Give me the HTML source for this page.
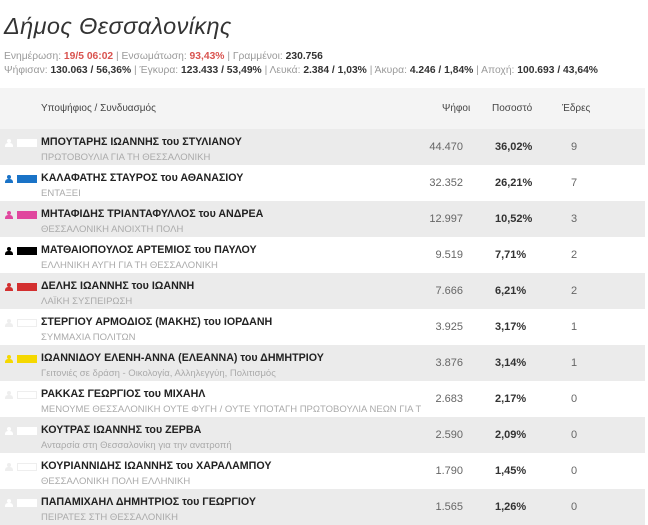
<!DOCTYPE html><html><head><meta charset="utf-8"><style>
body{margin:0;width:648px;height:524px;background:#fff;overflow:hidden;font-family:"Liberation Sans","Noto Sans CJK SC",sans-serif;position:relative}
.a{position:absolute;white-space:nowrap}
h1{position:absolute;left:4px;top:13px;margin:0;font:italic 23.5px "Liberation Sans",sans-serif;color:#333;letter-spacing:0.4px}
.meta{font-size:10.5px;color:#999;transform:scaleX(0.98);transform-origin:left}
.meta b{color:#333}
.row{position:absolute;left:0;width:645px;height:36px}
.g{background:#ebebeb}
.nm{position:absolute;left:41px;top:7px;font-size:11px;font-weight:bold;color:#222;white-space:nowrap;transform:scaleX(0.97);transform-origin:left}
.sb{position:absolute;left:41px;top:23px;font-size:9.5px;color:#aaa;width:380px;overflow:hidden;white-space:nowrap}
.v{position:absolute;right:182px;top:12px;font-size:11px;color:#666}
.p{position:absolute;left:495px;top:12px;font-size:11px;font-weight:bold;color:#333}
.s{position:absolute;left:571px;top:12px;font-size:11px;color:#666}
.pi{position:absolute;left:5px;top:10px;width:8px;height:8px}
.pi:before{content:"";position:absolute;left:2px;top:0;width:4px;height:4px;border-radius:50%;background:currentColor}
.pi:after{content:"";position:absolute;left:0;top:4px;width:8px;height:4px;border-radius:3px 3px 0 0;background:currentColor}
.bx{position:absolute;left:17px;top:10px;width:20px;height:8px}
</style></head><body>
<h1>Δήμος Θεσσαλονίκης</h1>
<div class="a meta" style="left:4px;top:50px">Ενημέρωση: <b style="color:#d9534f">19/5 06:02</b> | Ενσωμάτωση: <b style="color:#d9534f">93,43%</b> | Γραμμένοι: <b>230.756</b></div>
<div class="a meta" style="left:4px;top:64px">Ψήφισαν: <b>130.063 / 56,36%</b> | Έγκυρα: <b>123.433 / 53,49%</b> | Λευκά: <b>2.384 / 1,03%</b> | Άκυρα: <b>4.246 / 1,84%</b> | Αποχή: <b>100.693 / 43,64%</b></div>
<div class="row" style="top:88px;height:41px;background:#f4f4f4">
<div class="a" style="left:41px;top:15px;font-size:10px;color:#444">Υποψήφιος / Συνδυασμός</div>
<div class="a" style="left:442px;top:15px;font-size:10px;color:#444">Ψήφοι</div>
<div class="a" style="left:492px;top:15px;font-size:10px;color:#444">Ποσοστό</div>
<div class="a" style="left:562px;top:15px;font-size:10px;color:#444">Έδρες</div>
</div>
<div class="row g" style="top:129px"><div class="pi" style="color:#fff"></div><div class="bx" style="background:#fff"></div><div class="nm">ΜΠΟΥΤΑΡΗΣ ΙΩΑΝΝΗΣ του ΣΤΥΛΙΑΝΟΥ</div><div class="sb">ΠΡΩΤΟΒΟΥΛΙΑ ΓΙΑ ΤΗ ΘΕΣΣΑΛΟΝΙΚΗ</div><div class="v">44.470</div><div class="p">36,02%</div><div class="s">9</div></div>
<div class="row" style="top:165px"><div class="pi" style="color:#1a73c7"></div><div class="bx" style="background:#1a73c7"></div><div class="nm">ΚΑΛΑΦΑΤΗΣ ΣΤΑΥΡΟΣ του ΑΘΑΝΑΣΙΟΥ</div><div class="sb">ΕΝΤΑΞΕΙ</div><div class="v">32.352</div><div class="p">26,21%</div><div class="s">7</div></div>
<div class="row g" style="top:201px"><div class="pi" style="color:#e0479e"></div><div class="bx" style="background:#e0479e"></div><div class="nm">ΜΗΤΑΦΙΔΗΣ ΤΡΙΑΝΤΑΦΥΛΛΟΣ του ΑΝΔΡΕΑ</div><div class="sb">ΘΕΣΣΑΛΟΝΙΚΗ ΑΝΟΙΧΤΗ ΠΟΛΗ</div><div class="v">12.997</div><div class="p">10,52%</div><div class="s">3</div></div>
<div class="row" style="top:237px"><div class="pi" style="color:#000"></div><div class="bx" style="background:#000"></div><div class="nm">ΜΑΤΘΑΙΟΠΟΥΛΟΣ ΑΡΤΕΜΙΟΣ του ΠΑΥΛΟΥ</div><div class="sb">ΕΛΛΗΝΙΚΗ ΑΥΓΗ ΓΙΑ ΤΗ ΘΕΣΣΑΛΟΝΙΚΗ</div><div class="v">9.519</div><div class="p">7,71%</div><div class="s">2</div></div>
<div class="row g" style="top:273px"><div class="pi" style="color:#d32f2f"></div><div class="bx" style="background:#d32f2f"></div><div class="nm">ΔΕΛΗΣ ΙΩΑΝΝΗΣ του ΙΩΑΝΝΗ</div><div class="sb">ΛΑΪΚΗ ΣΥΣΠΕΙΡΩΣΗ</div><div class="v">7.666</div><div class="p">6,21%</div><div class="s">2</div></div>
<div class="row" style="top:309px"><div class="pi" style="color:#eee"></div><div class="bx" style="background:#fff;border:1px solid #eee;width:18px;height:6px"></div><div class="nm">ΣΤΕΡΓΙΟΥ ΑΡΜΟΔΙΟΣ (ΜΑΚΗΣ) του ΙΟΡΔΑΝΗ</div><div class="sb">ΣΥΜΜΑΧΙΑ ΠΟΛΙΤΩΝ</div><div class="v">3.925</div><div class="p">3,17%</div><div class="s">1</div></div>
<div class="row g" style="top:345px"><div class="pi" style="color:#f5d800"></div><div class="bx" style="background:#f5d800"></div><div class="nm">ΙΩΑΝΝΙΔΟΥ ΕΛΕΝΗ-ΑΝΝΑ (ΕΛΕΑΝΝΑ) του ΔΗΜΗΤΡΙΟΥ</div><div class="sb">Γειτονιές σε δράση - Οικολογία, Αλληλεγγύη, Πολιτισμός</div><div class="v">3.876</div><div class="p">3,14%</div><div class="s">1</div></div>
<div class="row" style="top:381px"><div class="pi" style="color:#eee"></div><div class="bx" style="background:#fff;border:1px solid #eee;width:18px;height:6px"></div><div class="nm">ΡΑΚΚΑΣ ΓΕΩΡΓΙΟΣ του ΜΙΧΑΗΛ</div><div class="sb">ΜΕΝΟΥΜΕ ΘΕΣΣΑΛΟΝΙΚΗ ΟΥΤΕ ΦΥΓΗ / ΟΥΤΕ ΥΠΟΤΑΓΗ ΠΡΩΤΟΒΟΥΛΙΑ ΝΕΩΝ ΓΙΑ ΤΟ ΔΗΜΟ</div><div class="v">2.683</div><div class="p">2,17%</div><div class="s">0</div></div>
<div class="row g" style="top:417px"><div class="pi" style="color:#fff"></div><div class="bx" style="background:#fff"></div><div class="nm">ΚΟΥΤΡΑΣ ΙΩΑΝΝΗΣ του ΖΕΡΒΑ</div><div class="sb">Ανταρσία στη Θεσσαλονίκη για την ανατροπή</div><div class="v">2.590</div><div class="p">2,09%</div><div class="s">0</div></div>
<div class="row" style="top:453px"><div class="pi" style="color:#eee"></div><div class="bx" style="background:#fff;border:1px solid #eee;width:18px;height:6px"></div><div class="nm">ΚΟΥΡΙΑΝΝΙΔΗΣ ΙΩΑΝΝΗΣ του ΧΑΡΑΛΑΜΠΟΥ</div><div class="sb">ΘΕΣΣΑΛΟΝΙΚΗ ΠΟΛΗ ΕΛΛΗΝΙΚΗ</div><div class="v">1.790</div><div class="p">1,45%</div><div class="s">0</div></div>
<div class="row g" style="top:489px"><div class="pi" style="color:#fff"></div><div class="bx" style="background:#fff"></div><div class="nm">ΠΑΠΑΜΙΧΑΗΛ ΔΗΜΗΤΡΙΟΣ του ΓΕΩΡΓΙΟΥ</div><div class="sb">ΠΕΙΡΑΤΕΣ ΣΤΗ ΘΕΣΣΑΛΟΝΙΚΗ</div><div class="v">1.565</div><div class="p">1,26%</div><div class="s">0</div></div>
</body></html>
